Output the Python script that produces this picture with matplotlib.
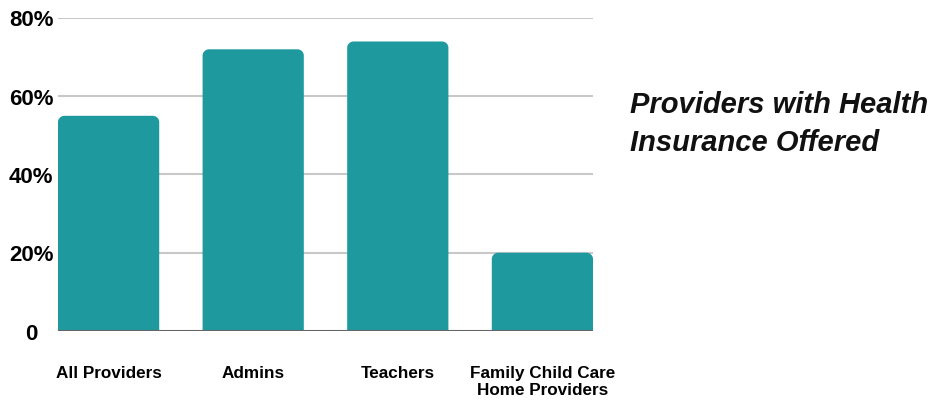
import numpy as np
import matplotlib
matplotlib.use("Agg")
import matplotlib.pyplot as plt
from matplotlib.patches import PathPatch
from matplotlib.path import Path
from matplotlib.transforms import blended_transform_factory, ScaledTranslation

categories = ["All Providers", "Admins", "Teachers", "Family Child Care\nHome Providers"]
shares = [55, 72, 74, 20]
y_ticks = [0, 20, 40, 60, 80]
y_tick_labels = ["0", "20%", "40%", "60%", "80%"]
title = "Providers with Health\nInsurance Offered"

BAR_COLOR = "#1e999e"
BAR_WIDTH = 0.70

plt.rcParams["font.family"] = ["Liberation Sans", "DejaVu Sans"]


def rounded_top_bar(x, height, width, rx, ry):
    # bar outline with rounded top corners, built in data units
    left, right = x - width / 2, x + width / 2
    ry = min(ry, height)
    t = np.linspace(0, np.pi / 2, 12)
    verts = [(left, 0), (left, height - ry)]
    verts += [(left + rx - rx * np.cos(a), height - ry + ry * np.sin(a)) for a in t]
    verts += [(right - rx + rx * np.sin(a), height - ry + ry * np.cos(a)) for a in t]
    verts += [(right, 0), (left, 0)]
    codes = [Path.MOVETO] + [Path.LINETO] * (len(verts) - 2) + [Path.CLOSEPOLY]
    return Path(verts, codes)


fig = plt.figure(figsize=(9.35, 4.04), dpi=100)
ax = fig.add_axes([58 / 935, 1 - 331 / 404, (593 - 58) / 935, (331 - 18) / 404])

ax.set_xlim(-BAR_WIDTH / 2, len(categories) - 1 + BAR_WIDTH / 2)
ax.set_ylim(0, 80)

for yv in y_ticks[1:]:
    ax.axhline(yv, color="#c8c8c8", lw=1.5, zorder=1)
ax.axhline(0, color="#666666", lw=1.5, zorder=3)

for i, v in enumerate(shares):
    path = rounded_top_bar(i, v, BAR_WIDTH, 0.045, 1.6)
    ax.add_patch(PathPatch(path, facecolor=BAR_COLOR, edgecolor="none", zorder=2))

for s in ax.spines.values():
    s.set_visible(False)

# y labels are centred in the left margin rather than right-aligned
ax.set_yticks(y_ticks)
ax.set_yticklabels([])
ax.tick_params(axis="y", length=0)
label_tr = blended_transform_factory(fig.transFigure, ax.transData) + \
    ScaledTranslation(0, -3 / 100, fig.dpi_scale_trans)
for yv, lab in zip(y_ticks, y_tick_labels):
    ax.text(31 / 935, yv, lab, transform=label_tr, ha="center", va="center",
            fontsize=16, fontweight="bold")

ax.set_xticks(range(len(categories)))
ax.set_xticklabels(categories, fontsize=12.3, fontweight="bold", va="top", linespacing=1.15)
ax.tick_params(axis="x", length=0, pad=25)

fig.text(630 / 935, 1 - 124 / 404, title, fontsize=21, fontweight="bold",
         fontstyle="italic", ha="left", va="center", linespacing=1.45, color="#111111")

fig.savefig("out.png", dpi=100)
